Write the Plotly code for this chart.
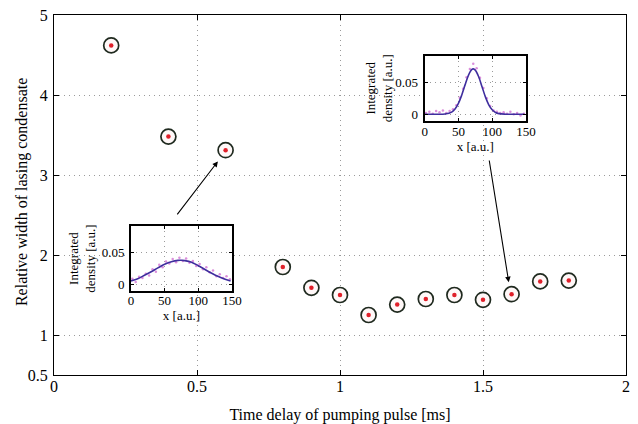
import plotly.graph_objects as go

# ---- main data ----
delay_ms = [0.2, 0.4, 0.6, 0.8, 0.9, 1.0, 1.1, 1.2, 1.3, 1.4, 1.5, 1.6, 1.7, 1.8]
rel_width = [4.62, 3.48, 3.31, 1.85, 1.59, 1.50, 1.25, 1.38, 1.45, 1.50, 1.44, 1.51, 1.67, 1.68]

x_ticks = [0, 0.5, 1, 1.5, 2]
x_ticklabels = ["0", "0.5", "1", "1.5", "2"]
y_ticks = [0.5, 1, 2, 3, 4, 5]
y_ticklabels = ["0.5", "1", "2", "3", "4", "5"]

# ---- inset 1 (broad profile, t = 0.6 ms) ----
in1_fit_x = [0, 10, 20, 30, 40, 50, 60, 70, 75, 80, 90, 100, 110, 120, 130, 140, 148]
in1_fit_y = [0.0055, 0.0090, 0.0144, 0.0200, 0.0260, 0.0317, 0.0358, 0.0379, 0.0380, 0.0375,
             0.0350, 0.0295, 0.0235, 0.0177, 0.0125, 0.0082, 0.0055]
in1_pts_x = [2, 7, 12, 17, 22, 27, 32, 37, 42, 47, 52, 57, 62, 67, 72, 77, 82, 87, 92, 97,
             102, 107, 112, 117, 122, 127, 132, 137, 142, 147]
in1_pts_y = [0.009, 0.004, 0.012, 0.010, 0.017, 0.014, 0.024, 0.020, 0.031, 0.027, 0.036, 0.033,
             0.040, 0.035, 0.042, 0.037, 0.041, 0.034, 0.037, 0.029, 0.032, 0.024, 0.027, 0.019,
             0.022, 0.013, 0.016, 0.010, 0.013, 0.008]

# ---- inset 2 (narrow profile, t = 1.6 ms) ----
in2_fit_x = [0, 10, 20, 30, 40, 45, 50, 55, 60, 65, 70, 72, 75, 80, 85, 90, 95, 100, 105, 110,
             120, 130, 140, 148]
in2_fit_y = [0.0, 0.0, 0.0, 0.0004, 0.0034, 0.0082, 0.0170, 0.0302, 0.0464, 0.0614, 0.0702,
             0.0710, 0.0691, 0.0587, 0.0431, 0.0272, 0.0148, 0.0070, 0.0028, 0.0010, 0.0001,
             0.0, 0.0, 0.0]
in2_pts_x = in1_pts_x
in2_pts_y = [0.002, 0.004, 0.001, 0.005, 0.003, 0.006, 0.002, 0.005, 0.008, 0.014, 0.026, 0.040,
             0.058, 0.071, 0.079, 0.072, 0.057, 0.041, 0.025, 0.013, 0.006, 0.004, 0.002, 0.003,
             0.001, 0.004, 0.000, 0.002, -0.002, 0.001]

inset_x_ticks = [0, 50, 100, 150]
inset_y_ticks = [0, 0.05]
inset_y_ticklabels = ["0", "0.05"]

FONT = "Liberation Serif"
fit_color = "#3f2e9e"
pts_color = "#dc8fdc"

fig = go.Figure()

# main scatter: open circle + red centre dot
fig.add_trace(go.Scatter(x=delay_ms, y=rel_width, mode="markers",
                         marker=dict(symbol="circle", size=15, color="#fff8f8",
                                     line=dict(color="#1f2a1f", width=1.7)),
                         showlegend=False, hoverinfo="skip"))
fig.add_trace(go.Scatter(x=delay_ms, y=rel_width, mode="markers",
                         marker=dict(symbol="circle", size=4.5, color="#e0202a"),
                         showlegend=False))

# inset 1
fig.add_trace(go.Scatter(x=in1_pts_x, y=in1_pts_y, mode="markers", xaxis="x2", yaxis="y2",
                         marker=dict(size=2.5, color=pts_color), showlegend=False))
fig.add_trace(go.Scatter(x=in1_fit_x, y=in1_fit_y, mode="lines", xaxis="x2", yaxis="y2",
                         line=dict(color=fit_color, width=1.6, shape="spline"), showlegend=False))
# inset 2
fig.add_trace(go.Scatter(x=in2_pts_x, y=in2_pts_y, mode="markers", xaxis="x3", yaxis="y3",
                         marker=dict(size=2.5, color=pts_color), showlegend=False))
fig.add_trace(go.Scatter(x=in2_fit_x, y=in2_fit_y, mode="lines", xaxis="x3", yaxis="y3",
                         line=dict(color=fit_color, width=1.6, shape="spline"), showlegend=False))

grid = dict(showgrid=True, gridcolor="#9a9a9a", griddash="1px,4px", gridwidth=1, zeroline=False,
            showline=True, linecolor="black", mirror="ticks", ticks="inside",
            tickcolor="black", automargin=False)

main_tf = dict(family=FONT, size=16, color="black")
inset_tf = dict(family=FONT, size=13, color="black")

fig.update_layout(
    width=638, height=424,
    margin=dict(l=54, r=12, t=15, b=49, autoexpand=False),
    paper_bgcolor="white", plot_bgcolor="white",
    font=dict(family=FONT, size=16, color="black"),
    xaxis=dict(domain=[0, 1], range=[0, 2], tickvals=x_ticks, ticktext=x_ticklabels,
               linewidth=1.3, ticklen=5, ticklabelstandoff=-3, tickfont=main_tf,
               title=dict(text="Time delay of pumping pulse [ms]", standoff=17,
                          font=main_tf), **grid),
    yaxis=dict(domain=[0, 1], range=[0.5, 5], tickvals=y_ticks, ticktext=y_ticklabels,
               linewidth=1.3, ticklen=5, ticklabelstandoff=2, tickfont=main_tf, **grid),
    xaxis2=dict(domain=[0.1346, 0.311], anchor="y2", range=[0, 150], tickvals=inset_x_ticks,
                linewidth=2, ticklen=3, ticklabelstandoff=-4, tickfont=inset_tf,
                title=dict(text="x [a.u.]", standoff=3, font=inset_tf), **grid),
    yaxis2=dict(domain=[0.233, 0.414], anchor="x2", range=[-0.0105, 0.092],
                tickvals=inset_y_ticks, ticktext=inset_y_ticklabels,
                linewidth=2, ticklen=3, ticklabelstandoff=2, tickfont=inset_tf,
                title=dict(text="Integrated<br>density [a.u.]", standoff=3, font=inset_tf),
                **grid),
    xaxis3=dict(domain=[0.648, 0.825], anchor="y3", range=[0, 150], tickvals=inset_x_ticks,
                linewidth=2, ticklen=3, ticklabelstandoff=-3, tickfont=inset_tf,
                title=dict(text="x [a.u.]", standoff=3, font=inset_tf), **grid),
    yaxis3=dict(domain=[0.7056, 0.8875], anchor="x3", range=[-0.0105, 0.092],
                tickvals=inset_y_ticks, ticktext=inset_y_ticklabels,
                linewidth=2, ticklen=3, ticklabelstandoff=2, tickfont=inset_tf,
                title=dict(text="Integrated<br>density [a.u.]", standoff=0, font=inset_tf),
                **grid),
)

# main y-axis title as a rotated text placed like the reference
fig.add_annotation(text="Relative width of lasing condensate", xref="paper", yref="paper",
                   x=-0.056, y=0.508, xanchor="center", yanchor="middle", textangle=-90,
                   showarrow=False, font=main_tf)

# white backgrounds behind insets (hide main grid)
for xr, yr in [("x2", "y2"), ("x3", "y3")]:
    fig.add_shape(type="rect", xref=f"{xr} domain", yref=f"{yr} domain",
                  x0=0, x1=1, y0=0, y1=1, fillcolor="white", line=dict(width=0), layer="below")

# arrows from insets to the corresponding points
arrow = dict(showarrow=True, arrowhead=2, arrowsize=1, arrowwidth=1.1, arrowcolor="black",
             text="", xref="x", yref="y", axref="x", ayref="y")
fig.add_annotation(x=0.573, y=3.17, ax=0.427, ay=2.49, **arrow)
fig.add_annotation(x=1.59, y=1.66, ax=1.521, ay=3.2, **arrow)

# remove the browser's default page margin so the figure sits at the window origin
fig.write_html("out.html", config={"displayModeBar": False},
               post_script="document.body.style.margin='0';")
